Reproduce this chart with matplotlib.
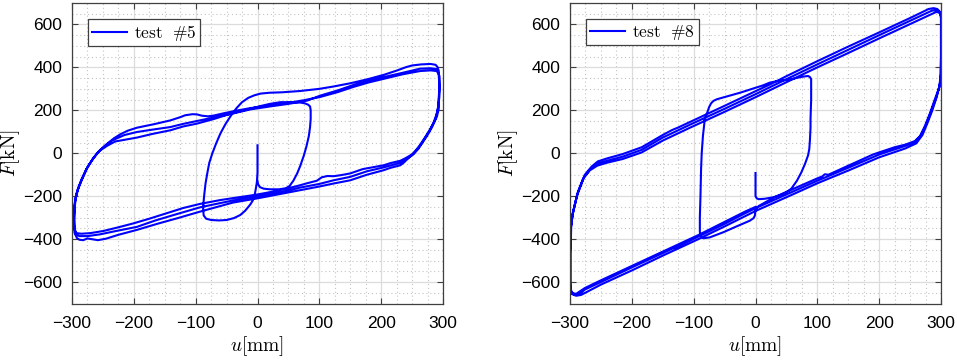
import numpy as np
import matplotlib.pyplot as plt
from matplotlib.ticker import MultipleLocator

plt.rcParams['mathtext.fontset'] = 'cm'
plt.rcParams['font.family'] = 'Liberation Sans'

# ---- test #5 : force-displacement path, (u [mm], F [kN])
t5_start = [(0, 37), (0, -20), (0, -90), (-1, -135), (-3, -170), (-5, -200), (-8, -222), (-12, -240),
            (-20, -268), (-28, -288), (-38, -302), (-50, -311), (-62, -313), (-75, -311), (-83, -305),
            (-87, -290), (-88, -260), (-87, -220), (-86, -190), (-84, -140), (-81, -90), (-78, -45),
            (-73, 0), (-67, 45), (-60, 92), (-52, 135), (-43, 175), (-34, 210), (-25, 238), (-15, 258),
            (-5, 270), (5, 278), (20, 282), (40, 284), (69, 290), (100, 300), (123, 311), (150, 326),
            (177, 344), (205, 366), (225, 385), (240, 401), (250, 409), (265, 414), (280, 416),
            (288, 412), (291, 402), (293, 385)]
t5_down1 = [(294, 350), (294, 300), (293, 250), (293, 205), (290, 170), (285, 140), (278, 105),
            (270, 70), (262, 35), (255, 10), (250, -5)]
t5_lower1 = [(240, -22), (231, -35), (215, -46), (204, -56), (185, -66), (170, -74), (150, -94),
             (135, -102), (123, -107), (113, -106), (104, -112), (96, -128), (80, -140), (69, -149),
             (50, -163), (30, -176), (0, -192), (-30, -205), (-60, -218), (-93, -236), (-120, -255),
             (-150, -282), (-175, -305), (-201, -327), (-225, -345), (-249, -362), (-270, -372),
             (-285, -375), (-293, -372)]
t5_up1 = [(-296, -355), (-297, -300), (-296, -240), (-293, -190), (-288, -150), (-282, -110),
          (-274, -60), (-265, -20), (-255, 14)]
t5_upper1 = [(-245, 40), (-232, 70), (-222, 88), (-210, 105), (-195, 119), (-168, 135), (-141, 153),
             (-125, 168), (-117, 177), (-105, 182), (-98, 181), (-90, 175), (-80, 172), (-70, 176),
             (-55, 186), (-35, 198), (-12, 210), (0, 215), (25, 224), (50, 235), (75, 247),
             (101, 262), (130, 285), (155, 309), (180, 330), (209, 350), (235, 368), (263, 383),
             (280, 386), (290, 383)]
t5_down2 = [(293, 370), (294, 320), (294, 260), (292, 210), (288, 160), (282, 120), (275, 85),
            (267, 50), (260, 20), (252, -5)]
t5_lower2 = [(240, -30), (231, -45), (215, -57), (204, -66), (177, -84), (150, -110), (123, -126),
             (100, -143), (69, -160), (40, -180), (0, -200), (-40, -220), (-93, -252), (-130, -283),
             (-165, -313), (-195, -343), (-230, -363), (-255, -378), (-275, -386), (-288, -386),
             (-294, -378)]
t5_up2 = [(-296, -340), (-296, -280), (-295, -220), (-291, -170), (-285, -125), (-277, -75),
          (-268, -35), (-258, 5)]
t5_upper2 = [(-248, 30), (-235, 60), (-215, 85), (-195, 99), (-170, 110), (-141, 122), (-120, 137),
             (-98, 150), (-70, 167), (-40, 185), (-12, 204), (20, 218), (50, 230), (80, 245),
             (101, 268), (130, 293), (155, 318), (180, 340), (209, 358), (235, 375), (263, 394),
             (280, 396), (290, 392)]
t5_down3 = [(294, 360), (294, 290), (293, 230), (290, 185), (285, 145), (279, 110), (272, 75),
            (263, 35), (253, 0)]
t5_lower3 = [(245, -20), (236, -45), (231, -56), (215, -68), (204, -79), (177, -100), (150, -126),
             (123, -141), (100, -155), (69, -172), (40, -188), (0, -210), (-40, -230), (-93, -272),
             (-130, -303), (-160, -327), (-195, -357), (-225, -380), (-245, -398), (-258, -405),
             (-268, -400), (-275, -397), (-282, -405), (-288, -403), (-292, -395)]
t5_up3 = [(-296, -370), (-297, -320), (-296, -260), (-294, -210), (-290, -165), (-284, -120),
          (-276, -70), (-266, -25), (-256, 10)]
t5_final = [(-243, 35), (-230, 55), (-210, 65), (-195, 73), (-170, 90), (-141, 107), (-120, 125),
            (-98, 138), (-70, 160), (-45, 183), (-25, 198), (-12, 207), (5, 220), (20, 230),
            (37, 238), (58, 238), (70, 236), (77, 232), (82, 226), (85, 218), (86, 200), (86, 160),
            (85, 122), (83, 80), (79, 30), (75, -10), (69, -60), (64, -95), (58, -128), (52, -152),
            (46, -163), (35, -168), (20, -168), (10, -165), (4, -158), (1, -145), (0, -130)]

# ---- test #8
t8_start = [(0, -92), (0, -150), (0, -200), (2, -210), (5, -214), (15, -212), (29, -205), (40, -195),
            (50, -182), (58, -165), (67, -128), (74, -90), (80, -50), (85, -10), (87, 20), (88, 60),
            (89, 120), (89, 160), (90, 250), (90, 345), (88, 355), (85, 360), (77, 357), (65, 350),
            (56, 343)]
t8_inner = [(45, 340), (35, 336), (23, 329), (12, 316), (0, 305), (-25, 282), (-40, 270), (-52, 260),
            (-62, 252), (-68, 244), (-72, 232), (-75, 215), (-78, 190), (-82, 159), (-85, 81),
            (-87, 0), (-88, -73), (-89, -200), (-90, -300), (-90, -367), (-88, -388), (-84, -396),
            (-74, -392), (-52, -368), (-30, -340), (-9, -314), (-3, -302), (-1, -290), (0, -262),
            (5, -246)]
t8_lower1 = [(30, -206), (50, -180), (100, -117), (108, -108), (112, -98), (118, -100), (153, -54),
             (190, -6), (200, 4), (225, 28), (242, 40), (258, 57)]
t8_right1 = [(266, 80), (274, 127), (282, 185), (290, 251), (297, 305), (299, 350), (300, 450),
             (300, 560), (300, 630), (298, 660), (294, 672), (288, 676), (280, 672)]
t8_upper1 = [(250, 630), (200, 563), (150, 497), (100, 429), (50, 359), (26, 324), (0, 289),
             (-50, 221), (-106, 146), (-125, 120), (-135, 108), (-150, 85), (-184, 28), (-215, -4),
             (-240, -24), (-255, -38), (-265, -62), (-276, -100), (-287, -178), (-295, -272),
             (-298, -337), (-299, -450), (-299, -580), (-299, -630), (-297, -650), (-292, -660),
             (-285, -658)]
t8_lower2 = [(-276, -635), (-250, -600), (-200, -532), (-140, -452), (-135, -445), (-130, -440),
             (-93, -389), (-50, -329), (-17, -280), (0, -256), (50, -192), (100, -128), (153, -64),
             (200, -6), (242, 34), (258, 52)]
t8_right2 = [(268, 85), (276, 135), (284, 195), (292, 258), (298, 315), (300, 360), (300, 470),
             (300, 580), (300, 640), (297, 660), (292, 667), (285, 664)]
t8_upper2 = [(250, 617), (200, 550), (150, 482), (100, 414), (50, 345), (0, 275), (-50, 207),
             (-106, 133), (-150, 73), (-184, 16), (-215, -16), (-240, -35), (-255, -48), (-266, -70),
             (-277, -110), (-288, -190), (-296, -285), (-299, -350), (-300, -460), (-300, -590),
             (-300, -640), (-297, -656), (-290, -664), (-282, -660)]
t8_lower3 = [(-270, -642), (-250, -612), (-200, -546), (-150, -477), (-93, -401), (-50, -341),
             (0, -269), (50, -205), (100, -140), (153, -77), (200, -19), (242, 22), (260, 46)]
t8_right3 = [(270, 85), (278, 140), (286, 200), (293, 262), (298, 320), (300, 370), (300, 480),
             (300, 600), (300, 645), (297, 656), (292, 658)]
t8_upper3 = [(250, 602), (200, 535), (150, 467), (100, 400), (50, 331), (0, 261), (-50, 193),
             (-106, 119), (-150, 59), (-184, 4), (-215, -27), (-240, -44), (-256, -58), (-268, -80),
             (-279, -120), (-289, -200), (-296, -290), (-299, -360), (-300, -470), (-300, -600),
             (-299, -640), (-296, -652), (-290, -655)]
t8_end = [(-276, -628), (-250, -592), (-200, -525), (-150, -458), (-93, -382), (-50, -320),
          (-17, -272), (0, -250)]

path5 = np.array(t5_start + t5_down1 + t5_lower1 + t5_up1 + t5_upper1 + t5_down2 + t5_lower2
                 + t5_up2 + t5_upper2 + t5_down3 + t5_lower3 + t5_up3 + t5_final)
path8 = np.array(t8_start + t8_inner + t8_lower1 + t8_right1 + t8_upper1 + t8_lower2 + t8_right2
                 + t8_upper2 + t8_lower3 + t8_right3 + t8_upper3 + t8_end)

tests = [(path5, r'$\mathrm{test\ \ \#5}$'), (path8, r'$\mathrm{test\ \ \#8}$')]

fig = plt.figure(figsize=(9.57, 3.6), dpi=100)
lefts = [72 / 957, 570 / 957]

for (path, name), left in zip(tests, lefts):
    ax = fig.add_axes([left, 56.5 / 360, 371 / 957, 300.5 / 360])
    ax.plot(path[:, 0], path[:, 1], color=(0, 0, 1), lw=1.5, label=name)

    ax.set_xlim(-300, 300)
    ax.set_ylim(-700, 700)
    ax.xaxis.set_major_locator(MultipleLocator(100))
    ax.xaxis.set_minor_locator(MultipleLocator(25))
    ax.yaxis.set_major_locator(MultipleLocator(200))
    ax.yaxis.set_minor_locator(MultipleLocator(50))

    ax.set_axisbelow(True)
    ax.grid(which='major', color='#dcdcdc', lw=0.9)
    ax.grid(which='minor', color='#c4c4c4', lw=0.8, ls=(0, (1, 2.5)))
    ax.tick_params(which='major', direction='in', length=4, width=0.8, color='#404040',
                   top=True, right=True, labelsize=12.5)
    ax.tick_params(axis='x', which='major', pad=9)
    ax.tick_params(axis='y', which='major', pad=7)
    ax.tick_params(which='minor', length=0)
    for sp in ax.spines.values():
        sp.set_color('#404040')
        sp.set_linewidth(0.9)

    ax.set_xlabel(r'$u[\mathrm{mm}]$', fontsize=14, labelpad=2)
    ax.set_ylabel(r'$F[\mathrm{kN}]$', fontsize=14, labelpad=1)

    leg = ax.legend(loc='upper left', fontsize=12.5, frameon=True, fancybox=False,
                    handlelength=2.0, handletextpad=0.45, borderaxespad=0.95, borderpad=0.2)
    leg.get_frame().set_edgecolor('#404040')
    leg.get_frame().set_linewidth(0.9)
    leg.get_frame().set_alpha(1)

fig.savefig('out.png', dpi=100)
